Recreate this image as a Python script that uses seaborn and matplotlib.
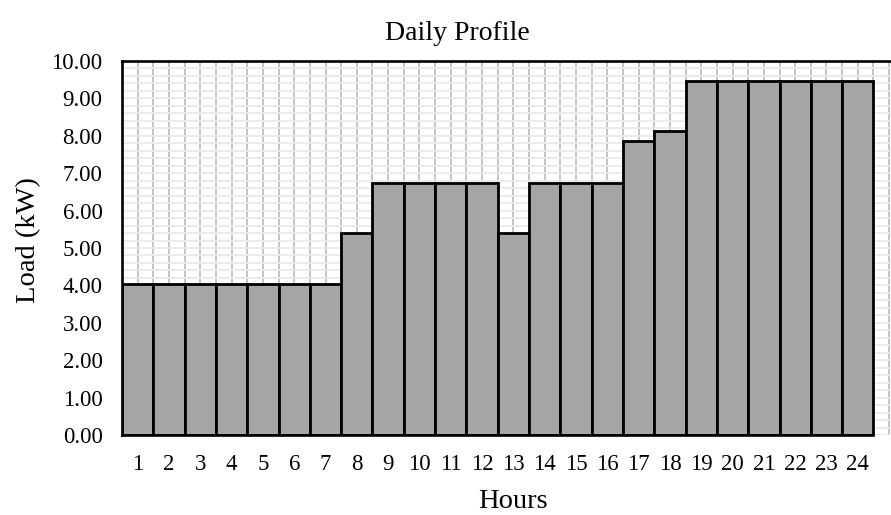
import numpy as np
import matplotlib
matplotlib.use("Agg")
import matplotlib.pyplot as plt
import pandas as pd
import seaborn as sns
from matplotlib.ticker import MultipleLocator, FormatStrFormatter

# hourly load values
hours = [str(h) for h in range(1, 25)]
load_kw = [4.05, 4.05, 4.05, 4.05, 4.05, 4.05, 4.05, 5.40,
           6.75, 6.75, 6.75, 6.75, 5.40, 6.75, 6.75, 6.75,
           7.85, 8.12, 9.47, 9.47, 9.47, 9.47, 9.47, 9.47]
y_ticks = [0, 1, 2, 3, 4, 5, 6, 7, 8, 9, 10]

sns.set_theme(style="white")
plt.rcParams['font.family'] = ['Liberation Serif', 'DejaVu Serif']
plt.rcParams['text.color'] = 'black'
plt.rcParams['xtick.color'] = 'black'
plt.rcParams['ytick.color'] = 'black'
plt.rcParams['axes.labelcolor'] = 'black'

df = pd.DataFrame({'hour': hours, 'load': load_kw})

fig = plt.figure(figsize=(8.91, 5.15), dpi=100)
ax = fig.add_axes([122 / 891, 1 - 435 / 515, 1 - 122 / 891, (435 - 61) / 515])

sns.barplot(data=df, x='hour', y='load', order=hours, color='#a5a5a5',
            saturation=1, edgecolor='black', linewidth=2.0, width=1.0, ax=ax)

ax.set_xlim(-0.5, 24.06)
ax.set_ylim(0, 10)
ax.set_yticks(y_ticks)
ax.yaxis.set_major_formatter(FormatStrFormatter('%.2f'))
ax.yaxis.set_minor_locator(MultipleLocator(0.2))
ax.xaxis.set_minor_locator(MultipleLocator(0.5))

# grid: light horizontal lines, darker vertical ones
ax.set_axisbelow(True)
ax.grid(axis='y', which='both', color='#ebebeb', linewidth=1.3)
ax.grid(axis='x', which='both', color='#c0c0c0', linewidth=1.3)

ax.tick_params(which='both', length=0, labelsize=16.5, pad=14)

for side in ['left', 'top', 'bottom']:
    ax.spines[side].set_visible(True)
    ax.spines[side].set_color('black')
    ax.spines[side].set_linewidth(1.9)
ax.spines['right'].set_visible(False)
ax.spines['bottom'].set_bounds(-0.5, 23.5)

ax.set_xlabel('Hours', fontsize=20.5, va='baseline')
ax.set_ylabel('Load (kW)', fontsize=20.5, va='center')
ax.xaxis.set_label_coords((513 - 122) / (891 - 122), (435 - 508) / 374)
ax.yaxis.set_label_coords(-(122 - 28.5) / (891 - 122), 0.52)

fig.text(457 / 891, 1 - 33 / 515, 'Daily Profile', fontsize=20,
         ha='center', va='center')

fig.savefig('out.png', dpi=100)
